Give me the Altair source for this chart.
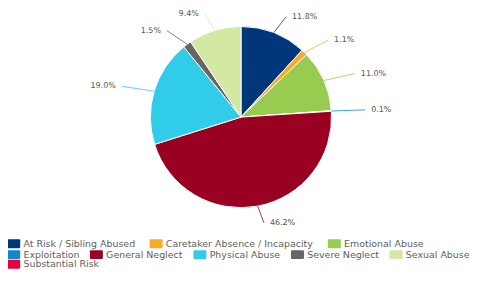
import altair as alt
import pandas as pd

categories = ["At Risk / Sibling Abused", "Caretaker Absence / Incapacity", "Emotional Abuse",
              "Exploitation", "General Neglect", "Physical Abuse", "Severe Neglect",
              "Sexual Abuse", "Substantial Risk"]
values = [11.8, 1.1, 11.0, 0.1, 46.2, 19.0, 1.5, 9.4, 0.0]
colors = ["#00377a", "#fbaa27", "#98cc50", "#1188cc", "#990021",
          "#31cde8", "#666666", "#d3e9a3", "#e6003c"]
legend_row1 = ["At Risk / Sibling Abused", "Caretaker Absence / Incapacity", "Emotional Abuse"]
legend_row2 = ["Exploitation", "General Neglect", "Physical Abuse", "Severe Neglect", "Sexual Abuse"]
legend_row3 = ["Substantial Risk"]

color_of = dict(zip(categories, colors))
df = pd.DataFrame({"category": categories, "value": values,
                   "order": list(range(len(categories)))})

CX, CY, R = 234, 109, 91
RX, RY = 125, 108
FONT = "DejaVu Sans"
SYMBOL = ("M-1.2,-1H1.2Q1.45,-1 1.45,-0.75V0.75Q1.45,1 1.2,1H-1.2"
          "Q-1.45,1 -1.45,0.75V-0.75Q-1.45,-1 -1.2,-1Z")

scale_all = alt.Scale(domain=categories, range=colors)
base = alt.Chart(df)

arcs = base.transform_filter("datum.value > 0").mark_arc(
    outerRadius=R, stroke="white", strokeWidth=1
).encode(
    theta=alt.Theta("value:Q", stack=True),
    order=alt.Order("order:Q"),
    color=alt.Color("category:N", scale=scale_all,
                    legend=alt.Legend(values=legend_row1, orient="none", legendX=1, legendY=231,
                                      direction="horizontal", columnPadding=14, title=None)),
    x=alt.value(CX), y=alt.value(CY),
)

geo = (
    base.transform_window(cum="sum(value)", sort=[alt.SortField("order")], frame=[None, 0])
    .transform_joinaggregate(total="sum(value)")
    .transform_filter("datum.value > 0")
    .transform_calculate(mid="(datum.cum - datum.value / 2) / datum.total * 2 * PI")
    .transform_calculate(
        sx=f"{CX} + {R} * sin(datum.mid)",
        sy=f"{CY} - {R} * cos(datum.mid)",
        ex=f"{CX} + {RX} * sin(datum.mid)",
        ey=f"{CY} - {RY} * cos(datum.mid)",
        side="sin(datum.mid) >= 0 ? 1 : -1",
        label="format(datum.value, '.1f') + '%'",
    )
    .transform_calculate(lx="datum.ex + datum.side * 6")
)

rules = geo.mark_rule(strokeWidth=1, opacity=0.8).encode(
    x=alt.X("sx:Q", scale=None, axis=None),
    y=alt.Y("sy:Q", scale=None, axis=None),
    x2="ex:Q", y2="ey:Q",
    color=alt.Color("category:N", scale=scale_all, legend=None),
)

text_right = geo.transform_filter("datum.side > 0").mark_text(
    align="left", baseline="middle", font=FONT, fontSize=8, color="#555555"
).encode(
    x=alt.X("lx:Q", scale=None, axis=None),
    y=alt.Y("ey:Q", scale=None, axis=None),
    text="label:N",
)
text_left = geo.transform_filter("datum.side < 0").mark_text(
    align="right", baseline="middle", font=FONT, fontSize=8, color="#555555"
).encode(
    x=alt.X("lx:Q", scale=None, axis=None),
    y=alt.Y("ey:Q", scale=None, axis=None),
    text="label:N",
)

leg2 = base.transform_filter("false").mark_point(filled=True, opacity=1).encode(
    fill=alt.Fill("category:N",
                  scale=alt.Scale(domain=legend_row2, range=[color_of[c] for c in legend_row2]),
                  legend=alt.Legend(orient="none", legendX=1, legendY=242,
                                    direction="horizontal", columnPadding=10, title=None)),
)
leg3 = base.transform_filter("false").mark_point(
    filled=True, opacity=1, color=color_of["Substantial Risk"]
).encode(
    stroke=alt.Stroke("category:N",
                      scale=alt.Scale(domain=legend_row3, range=[color_of[c] for c in legend_row3]),
                      legend=alt.Legend(orient="none", legendX=1, legendY=252,
                                        direction="horizontal", title=None,
                                        symbolFillColor=color_of["Substantial Risk"],
                                        symbolOpacity=1)),
)

chart = alt.layer(arcs, rules, text_right, text_left, leg2, leg3).properties(
    width=440, height=220, padding=0
).configure_view(stroke=None).configure_legend(
    labelFont=FONT, labelFontSize=9.5, labelColor="#606060",
    symbolType=SYMBOL, symbolSize=81, symbolStrokeWidth=0, labelOffset=5,
    symbolOpacity=1, padding=0, rowPadding=0,
)

chart.save("out.html", embed_options={"renderer": "svg", "actions": False})
